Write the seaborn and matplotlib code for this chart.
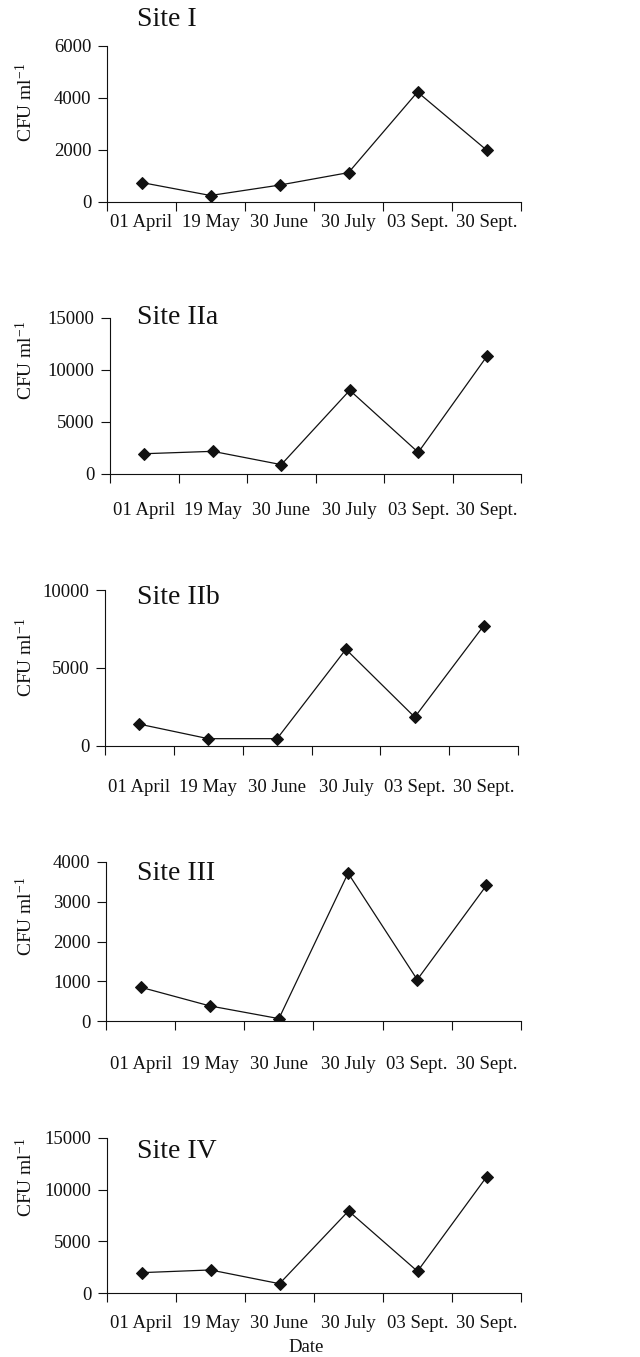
import numpy as np
import pandas as pd
import matplotlib
matplotlib.use("Agg")
import matplotlib.pyplot as plt
import seaborn as sns

# data
dates = ["01 April", "19 May", "30 June", "30 July", "03 Sept.", "30 Sept."]
sites = ["Site I", "Site IIa", "Site IIb", "Site III", "Site IV"]
site_1 = [750, 250, 650, 1130, 4230, 2000]
site_2a = [1950, 2180, 900, 8050, 2080, 11300]
site_2b = [1400, 470, 470, 6200, 1850, 7700]
site_3 = [850, 380, 60, 3720, 1040, 3410]
site_4 = [1970, 2230, 900, 7940, 2100, 11230]
y_max = [6000, 15000, 10000, 4000, 15000]
y_step = [2000, 5000, 5000, 1000, 5000]
series = [site_1, site_2a, site_2b, site_3, site_4]

sns.set_style("ticks")
plt.rcParams["font.family"] = ["Liberation Serif", "DejaVu Serif"]
plt.rcParams["mathtext.fontset"] = "custom"
plt.rcParams["mathtext.rm"] = "Liberation Serif"
plt.rcParams["mathtext.it"] = "Liberation Serif:italic"

W, H = 640, 1357
fig = plt.figure(figsize=(6.4, 13.57), dpi=100)

# layout in pixels: axes box (left, top, right, bottom), title / ylabel centres, x label pad
boxes = [(107, 46, 521, 202), (110, 318, 521, 474), (105, 590, 518, 746),
         (106, 862, 521, 1021), (107, 1138, 521, 1293)]
title_y = [20, 318, 597, 874, 1152]
ylab_y = [102, 360, 657, 916, 1177]
xpad = [8.5, 20.5, 23.5, 25, 16]
ink = "#111111"

for i, (name, vals) in enumerate(zip(sites, series)):
    l, t, r, b = boxes[i]
    ax = fig.add_axes([l / W, 1 - b / H, (r - l) / W, (b - t) / H])
    df = pd.DataFrame({"date": dates, "cfu": vals})
    sns.lineplot(data=df, x="date", y="cfu", sort=False, ax=ax, color=ink,
                 linewidth=0.9, marker="D", markersize=6.5,
                 markeredgecolor=ink, markerfacecolor=ink)

    ax.set_xlim(-0.5, len(dates) - 0.5)
    ax.set_ylim(0, y_max[i])
    yt = np.arange(0, y_max[i] + 1, y_step[i])
    ax.set_yticks(yt, labels=[str(v) for v in yt])
    bounds = np.arange(-0.5, len(dates), 1.0)
    ax.set_xticks(bounds, labels=[""] * len(bounds))
    ax.set_xticks(np.arange(len(dates)), labels=dates, minor=True)

    ax.tick_params(axis="y", length=6.2, width=0.8, pad=5, labelsize=13.5, colors=ink)
    ax.tick_params(axis="x", which="major", length=6.7, width=0.8, color=ink)
    ax.tick_params(axis="x", which="minor", length=0, pad=xpad[i], labelsize=13.5,
                   labelcolor=ink)

    for side in ["top", "right"]:
        ax.spines[side].set_visible(False)
    for side in ["left", "bottom"]:
        ax.spines[side].set_linewidth(0.8)
        ax.spines[side].set_color(ink)

    ax.set_xlabel("")
    ax.set_ylabel("CFU ml$^{-1}$", fontsize=14, color=ink)
    ax.yaxis.set_label_coords((36 - l) / (r - l), (b - ylab_y[i]) / (b - t))

    fig.text(137 / W, 1 - title_y[i] / H, name, ha="left", va="center",
             fontsize=20, color=ink)

fig.text(306 / W, 1 - 1347 / H, "Date", ha="center", va="center",
         fontsize=13.5, color=ink)

fig.savefig("out.png", dpi=100)
